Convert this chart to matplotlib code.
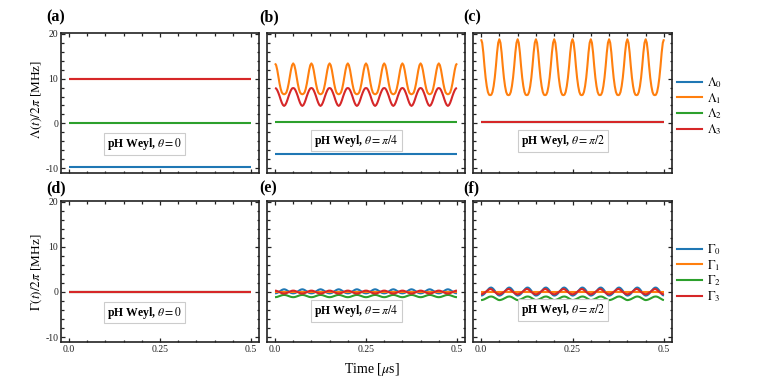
import numpy as np
import matplotlib
matplotlib.use("Agg")
import matplotlib.pyplot as plt
from matplotlib.ticker import MultipleLocator, FixedLocator
from matplotlib.lines import Line2D

plt.rcParams['font.family'] = ['Liberation Serif', 'DejaVu Serif']
plt.rcParams['mathtext.fontset'] = 'stix'
plt.rcParams['axes.unicode_minus'] = False

# ---------------- data ----------------
t_end = 0.5          # microseconds
n_periods = 10       # oscillation periods visible in 0..0.5 us
colors = ['#1f77b4', '#ff7f0e', '#2ca02c', '#d62728']

# constant levels (MHz)
lam_a = [-9.8, 10.0, 0.0, 10.0]          # theta = 0
lam_b_const = {0: -6.9, 2: 0.4}          # theta = pi/4
lam_c_const = {0: 0.35, 2: 0.35, 3: 0.35}  # theta = pi/2
gam_d = [0.0, 0.0, 0.0, 0.0]             # theta = 0
gam_e_const = {1: 0.05}
gam_f_const = {1: 0.05}

# one period of each oscillating curve, 16 readings (phase 0 .. 15/16)
lam1_b = [13.4, 13.0, 11.9, 10.4, 8.9, 7.7, 6.9, 6.6, 6.5, 6.6, 6.9, 7.7, 8.9, 10.4, 11.9, 13.0]
lam3_b = [7.9, 7.8, 7.4, 6.8, 6.1, 5.3, 4.6, 4.1, 3.9, 4.1, 4.6, 5.3, 6.1, 6.8, 7.4, 7.8]
lam1_c = [18.8, 18.0, 15.8, 12.8, 10.2, 8.3, 7.0, 6.4, 6.3, 6.4, 7.0, 8.3, 10.2, 12.8, 15.8, 18.0]

gam0_e = [-0.3, -0.27, -0.19, -0.05, 0.12, 0.29, 0.44, 0.55, 0.6, 0.55, 0.44, 0.29, 0.12, -0.05, -0.19, -0.27]
gam2_e = [-1.15, -1.13, -1.08, -1.0, -0.9, -0.8, -0.72, -0.67, -0.65, -0.67, -0.72, -0.8, -0.9, -1.0, -1.08, -1.13]
gam3_e = [0.3, 0.28, 0.2, 0.1, -0.03, -0.15, -0.26, -0.33, -0.35, -0.33, -0.26, -0.15, -0.03, 0.1, 0.2, 0.28]

gam0_f = [-0.8, -0.75, -0.6, -0.38, -0.1, 0.2, 0.5, 0.78, 0.95, 0.98, 0.85, 0.6, 0.28, -0.1, -0.45, -0.7]
gam2_f = [-1.8, -1.77, -1.7, -1.6, -1.47, -1.33, -1.2, -1.08, -1.02, -1.0, -1.05, -1.15, -1.3, -1.47, -1.62, -1.74]
gam3_f = [-0.5, -0.47, -0.35, -0.18, 0.0, 0.2, 0.4, 0.58, 0.68, 0.62, 0.45, 0.22, 0.0, -0.2, -0.37, -0.47]

theta_labels = [r'pH Weyl, $\theta = 0$', r'pH Weyl, $\theta = \pi/4$', r'pH Weyl, $\theta = \pi/2$']
panel_labels = ['(a)', '(b)', '(c)', '(d)', '(e)', '(f)']
x_ticks = [0.0, 0.25, 0.5]
x_ticklabels = ['0.0', '0.25', '0.5']
y_ticks = [-10, 0, 10, 20]


def tile(period):
    arr = np.asarray(period, float)
    return np.concatenate([np.tile(arr, n_periods), arr[:1]])


def tgrid(period):
    return np.linspace(0, t_end, n_periods * len(period) + 1)


def const(v):
    return (np.array([0.0, t_end]), np.array([v, v]))

panels = [
    [const(v) for v in lam_a],
    [const(lam_b_const[0]), (tgrid(lam1_b), tile(lam1_b)), const(lam_b_const[2]), (tgrid(lam3_b), tile(lam3_b))],
    [const(lam_c_const[0]), (tgrid(lam1_c), tile(lam1_c)), const(lam_c_const[2]), const(lam_c_const[3])],
    [const(v) for v in gam_d],
    [(tgrid(gam0_e), tile(gam0_e)), const(gam_e_const[1]), (tgrid(gam2_e), tile(gam2_e)), (tgrid(gam3_e), tile(gam3_e))],
    [(tgrid(gam0_f), tile(gam0_f)), const(gam_f_const[1]), (tgrid(gam2_f), tile(gam2_f)), (tgrid(gam3_f), tile(gam3_f))],
]

# ---------------- figure ----------------
W, H = 763, 382
fig = plt.figure(figsize=(W / 100, H / 100), dpi=100)

lefts = [61, 267, 473]
widths = [198, 198, 199]
rows = [(33, 173), (201, 342)]
box_pos = [(0.424, 0.21), (0.452, 0.232), (0.452, 0.229),
           (0.424, 0.209), (0.452, 0.223), (0.452, 0.227)]
label_x = [46, 259, 463]
label_y = [17, 188]

axes = []
for r, (top, bot) in enumerate(rows):
    for c in range(3):
        i = r * 3 + c
        ax = fig.add_axes([lefts[c] / W, 1 - bot / H, widths[c] / W, (bot - top) / H])
        axes.append(ax)
        for k, (x, y) in enumerate(panels[i]):
            ax.plot(x, y, color=colors[k], lw=1.5, solid_capstyle='butt', solid_joinstyle='round')
        ax.set_xlim(-0.022, 0.522)
        ax.set_ylim(-11.1, 20.2)
        ax.xaxis.set_major_locator(FixedLocator(x_ticks))
        ax.xaxis.set_minor_locator(MultipleLocator(0.05))
        ax.yaxis.set_major_locator(FixedLocator(y_ticks))
        ax.yaxis.set_minor_locator(MultipleLocator(2))
        ax.tick_params(which='both', direction='in', top=True, right=True,
                       labelsize=7, width=0.9, colors='#222222', pad=2)
        ax.tick_params(which='major', length=3)
        ax.tick_params(which='minor', length=1.8)
        if r == 1:
            ax.set_xticklabels(x_ticklabels)
        else:
            ax.set_xticklabels([])
        if c == 0:
            ax.set_yticklabels([str(v) for v in y_ticks])
        else:
            ax.set_yticklabels([])
        for s in ax.spines.values():
            s.set_linewidth(1.2)
            s.set_color('#222222')
        bx, by = box_pos[i]
        ax.text(bx, by, theta_labels[c], transform=ax.transAxes, ha='center', va='center',
                fontsize=8.5, fontweight='bold',
                bbox=dict(boxstyle='square,pad=0.25', fc='white', ec='#cccccc', lw=0.8))
        fig.text(label_x[c] / W, 1 - label_y[r] / H, panel_labels[i], ha='left', va='center',
                 fontsize=11.5, fontweight='bold')

fig.text(37 / W, 1 - 99 / H, r'$\Lambda(t)/2\pi$ [MHz]', rotation=90, ha='center', va='center', fontsize=9.5)
fig.text(37 / W, 1 - 272 / H, r'$\Gamma(t)/2\pi$ [MHz]', rotation=90, ha='center', va='center', fontsize=9.5)
fig.text(372 / W, 1 - 369 / H, r'Time [$\mu$s]', ha='center', va='center', fontsize=10)

lam_names = [r'$\Lambda_0$', r'$\Lambda_1$', r'$\Lambda_2$', r'$\Lambda_3$']
gam_names = [r'$\Gamma_0$', r'$\Gamma_1$', r'$\Gamma_2$', r'$\Gamma_3$']
for names, ytop in [(lam_names, 75), (gam_names, 242)]:
    handles = [Line2D([], [], color=col, lw=1.5) for col in colors]
    fig.legend(handles, names, loc='upper left', bbox_to_anchor=(677 / W, 1 - ytop / H),
               frameon=False, fontsize=9, handlelength=2.0, handletextpad=0.4,
               labelspacing=0.08, borderpad=0, borderaxespad=0)

fig.savefig('out.png', dpi=100)
